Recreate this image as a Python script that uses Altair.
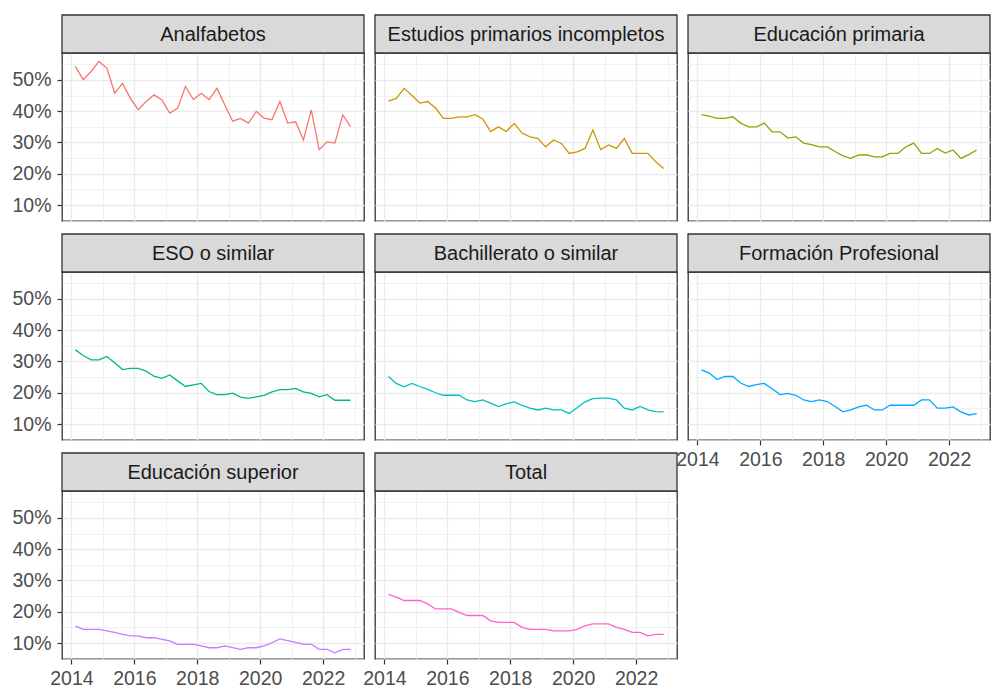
import altair as alt
import pandas as pd

categories = [
    "Analfabetos",
    "Estudios primarios incompletos",
    "Educación primaria",
    "ESO o similar",
    "Bachillerato o similar",
    "Formación Profesional",
    "Educación superior",
    "Total",
]

colors = ["#F8766D", "#CD9600", "#7CAE00", "#00BE67",
          "#00BFC4", "#00A9FF", "#C77CFF", "#FF61CC"]

years = list(range(2014, 2023))
quarters = [1, 2, 3, 4]

analfabetos = [54.3, 50.1, 52.7, 55.9, 53.8, 45.8, 48.9, 44.1, 40.5, 43.1, 45.2, 43.6,
               39.4, 40.9, 47.9, 43.7, 45.7, 43.7, 47.3, 42.0, 36.8, 37.7, 36.2, 39.9,
               37.8, 37.3, 43.1, 36.2, 36.6, 30.8, 40.4, 27.7, 30.2, 29.8, 38.8, 35.1]
primarios_incompletos = [43.2, 44.1, 47.3, 45.0, 42.6, 43.1, 41.0, 37.7, 37.7, 38.2, 38.2, 38.9,
                         37.5, 33.5, 35.0, 33.5, 36.1, 33.0, 31.8, 31.3, 28.6, 30.8, 29.7, 26.5,
                         27.0, 28.1, 34.0, 27.7, 29.2, 28.1, 31.3, 26.5, 26.5, 26.5, 23.8, 21.7]
primaria = [38.9, 38.4, 37.7, 37.7, 38.2, 36.2, 35.0, 35.0, 36.2, 33.4, 33.4, 31.4,
            31.8, 29.8, 29.3, 28.6, 28.6, 27.1, 25.7, 24.9, 26.0, 26.0, 25.4, 25.4,
            26.5, 26.5, 28.6, 29.8, 26.5, 26.5, 28.1, 26.6, 27.6, 24.9, 26.1, 27.6]
eso = [33.7, 31.9, 30.5, 30.5, 31.6, 29.6, 27.4, 27.8, 27.8, 26.9, 25.3, 24.6,
       25.7, 23.8, 22.0, 22.5, 23.0, 20.4, 19.4, 19.4, 19.9, 18.6, 18.2, 18.7,
       19.2, 20.3, 21.0, 21.0, 21.4, 20.3, 19.8, 18.7, 19.4, 17.6, 17.6, 17.6]
bachillerato = [25.2, 23.0, 21.9, 23.0, 22.0, 21.1, 20.0, 19.2, 19.2, 19.2, 17.7, 17.2,
                17.7, 16.7, 15.6, 16.5, 17.1, 16.0, 15.1, 14.5, 15.1, 14.5, 14.5, 13.4,
                15.2, 17.1, 18.1, 18.3, 18.3, 17.7, 15.1, 14.5, 15.6, 14.5, 14.0, 13.9]
fp = [27.3, 26.3, 24.2, 25.2, 25.2, 23.1, 22.0, 22.6, 23.0, 21.3, 19.4, 19.8,
      19.2, 17.7, 17.2, 17.7, 17.2, 15.6, 13.9, 14.5, 15.5, 16.0, 14.5, 14.5,
      16.0, 16.0, 16.0, 16.0, 17.7, 17.7, 15.1, 15.1, 15.5, 13.9, 12.9, 13.3]
superior = [15.4, 14.4, 14.4, 14.4, 13.9, 13.4, 12.8, 12.3, 12.3, 11.7, 11.7, 11.2,
            10.7, 9.6, 9.6, 9.6, 9.1, 8.5, 8.5, 9.1, 8.5, 8.0, 8.5, 8.5,
            9.1, 10.1, 11.3, 10.8, 10.2, 9.6, 9.6, 8.0, 8.0, 6.9, 8.0, 8.0]
total = [25.6, 24.7, 23.6, 23.6, 23.6, 22.5, 20.9, 20.9, 20.9, 19.8, 18.8, 18.8,
         18.8, 17.1, 16.6, 16.6, 16.6, 15.0, 14.4, 14.4, 14.4, 13.9, 13.9, 13.9,
         14.4, 15.5, 16.1, 16.1, 16.1, 15.0, 14.4, 13.4, 13.4, 12.3, 12.8, 12.8]

series = [analfabetos, primarios_incompletos, primaria, eso,
          bachillerato, fp, superior, total]

x_values = list(range(2014, 2024))
y_values = [5, 10, 15, 20, 25, 30, 35, 40, 45, 50, 55]

W = 302
H = 168
STRIP = 38
FONT = "Liberation Sans"
NCOL = 3


def make_df(vals):
    rows = []
    k = 0
    for y in years:
        for q in quarters:
            rows.append({"t": y + (q - 0.5) / 4, "v": vals[k]})
            k += 1
    return pd.DataFrame(rows)


def x_axis(show):
    if show:
        return alt.Axis(
            values=x_values, format="d",
            labelExpr="datum.value % 2 == 0 ? datum.label : ''",
            gridWidth={"condition": {"test": "datum.value % 2 == 1", "value": 0.7}, "value": 1.4},
            tickColor={"condition": {"test": "datum.value % 2 == 1", "value": "transparent"}, "value": "#333333"},
            labelFlush=False, labelOverlap=False, labelPadding=5, title=None,
        )
    return alt.Axis(
        values=x_values, labels=False, ticks=False,
        gridWidth={"condition": {"test": "datum.value % 2 == 1", "value": 0.7}, "value": 1.4},
        title=None,
    )


def y_axis(show):
    if show:
        return alt.Axis(
            values=y_values,
            labelExpr="datum.value % 10 == 0 ? datum.value + '%' : ''",
            gridWidth={"condition": {"test": "datum.value % 10 != 0", "value": 0.7}, "value": 1.4},
            tickColor={"condition": {"test": "datum.value % 10 != 0", "value": "transparent"}, "value": "#333333"},
            labelOverlap=False, labelPadding=6, title=None,
        )
    return alt.Axis(
        values=y_values, labels=False, ticks=False,
        gridWidth={"condition": {"test": "datum.value % 10 != 0", "value": 0.7}, "value": 1.4},
        title=None,
    )


n = len(categories)
panels = []
for idx, (cat, vals, col) in enumerate(zip(categories, series, colors)):
    show_y = idx % NCOL == 0
    show_x = idx + NCOL >= n
    line = alt.Chart(make_df(vals)).mark_line(strokeWidth=1.3, color=col, clip=True).encode(
        x=alt.X("t:Q", scale=alt.Scale(domain=[2013.7, 2023.3], nice=False, zero=False), axis=x_axis(show_x)),
        y=alt.Y("v:Q", scale=alt.Scale(domain=[4.9, 58.6], nice=False, zero=False), axis=y_axis(show_y)),
    )
    label_df = pd.DataFrame({"cat": [cat]})
    strip = alt.Chart(label_df).mark_rect(fill="#D9D9D9", stroke="#333333", strokeWidth=1.3).encode(
        x=alt.value(0), x2=alt.value(W), y=alt.value(-STRIP), y2=alt.value(0)
    )
    text = alt.Chart(label_df).mark_text(
        font=FONT, fontSize=20, color="#1A1A1A", align="center", baseline="middle"
    ).encode(x=alt.value(W / 2), y=alt.value(-STRIP / 2 + 1), text="cat:N")
    panels.append(alt.layer(line, strip, text).properties(width=W, height=H))

chart = alt.concat(
    *panels, columns=NCOL, spacing={"row": 51, "column": 11}, bounds="flush"
).properties(
    padding={"left": 3, "top": 5, "right": 3, "bottom": 3},
    background="white",
).configure_view(
    stroke="#333333", strokeWidth=1.3
).configure_axis(
    labelFont=FONT,
    labelFontSize=19.5,
    labelColor="#4D4D4D",
    tickSize=5,
    tickWidth=1.2,
    domain=False,
    gridColor="#EBEBEB",
)

chart.save("out.html", embed_options={"renderer": "svg", "actions": False})
